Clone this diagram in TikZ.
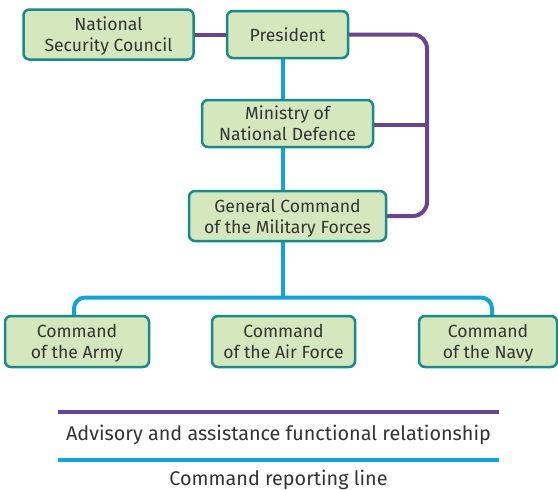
\documentclass[tikz,border=0pt]{standalone}
\usepackage{fontspec}
\setmainfont{Fira Sans}
\usetikzlibrary{backgrounds}
\definecolor{boxfill}{HTML}{D5E8BD}
\definecolor{boxline}{HTML}{178A8C}
\definecolor{purp}{HTML}{6A4391}
\definecolor{blu}{HTML}{0EA5DC}
\definecolor{txt}{HTML}{333333}
\newcommand\twolines[2]{\begin{tabular}{@{}c@{}}\rule{0pt}{19.7pt}#1\\#2\rule[-6.3pt]{0pt}{6.3pt}\end{tabular}}
\begin{document}
\begin{tikzpicture}[x=1pt,y=-1pt,
  orgbox/.style={draw=boxline,fill=boxfill,line width=2.5pt,rounded corners=6pt,
    align=center,font=\fontsize{17.6}{21}\selectfont,text=txt,inner sep=0pt},
  purpline/.style={draw=purp,line width=4pt},
  blueline/.style={draw=blu,line width=4pt},
  legendtext/.style={font=\fontsize{19.8}{24}\selectfont,text=txt}]
\useasboundingbox (0,0) rectangle (558,490);
\node[orgbox,minimum width=170pt,minimum height=50pt] (nsc) at (108.5,34.5) {\twolines{National}{Security Council}};
\node[orgbox,minimum width=121pt,minimum height=47pt] (pres) at (287.5,34.5) {\rule{0pt}{19.7pt}President\rule[-6.3pt]{0pt}{6.3pt}};
\node[orgbox,minimum width=171pt,minimum height=47pt] (mnd) at (287.5,123.5) {\twolines{Ministry of}{National Defence}};
\node[orgbox,minimum width=197pt,minimum height=50pt] (gc) at (287.5,216) {\twolines{General Command}{of the Military Forces}};
\node[orgbox,minimum width=144pt,minimum height=51pt] (army) at (77,341.5) {\twolines{Command}{of the Army}};
\node[orgbox,minimum width=143pt,minimum height=51pt] (air) at (283.5,341.5) {\twolines{Command}{of the Air Force}};
\node[orgbox,minimum width=138pt,minimum height=51pt] (navy) at (488,341.5) {\twolines{Command}{of the Navy}};
\coordinate (rv) at (427,125);
\coordinate (bus) at (282.5,297.5);
\coordinate (busl) at (74,297.5);
\coordinate (busr) at (492,297.5);
\begin{scope}[on background layer]
\draw[blueline] (pres.center -| bus) -- (bus);
\draw[blueline,rounded corners=11pt] (army.center -| busl) -- (busl) -- (busr) -- (navy.center -| busr);
\draw[purpline] (nsc) -- (pres);
\draw[purpline,rounded corners=14pt] (pres.center) -- (pres.center -| rv) -- (gc.center -| rv) -- (gc.center);
\draw[purpline] (mnd.center |- rv) -- (rv);
\end{scope}
\coordinate (la1) at (58,412);
\coordinate (la2) at (499,412);
\coordinate (lb1) at (58,460);
\coordinate (lb2) at (499,460);
\draw[purpline] (la1) -- (la2);
\draw[blueline] (lb1) -- (lb2);
\node[legendtext] (lt1) at (278.5,435) {Advisory and assistance functional relationship};
\node[legendtext] (lt2) at (278.5,480) {Command reporting line};
\end{tikzpicture}
\end{document}
